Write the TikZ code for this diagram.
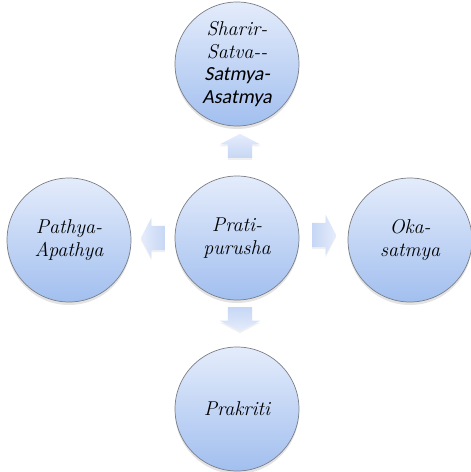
\documentclass[tikz,border=0pt]{standalone}
\usepackage{fontspec}
\newfontfamily\calfont{Carlito}[AutoFakeSlant=0.2]
\usetikzlibrary{shapes.arrows,shadows}

\definecolor{ballTop}{HTML}{E4ECFB}
\definecolor{ballBot}{HTML}{A2BFEF}
\definecolor{ballRim}{HTML}{7A7F88}
\definecolor{flowDark}{HTML}{C6D6F4}
\definecolor{flowLight}{HTML}{E6EDFC}

\tikzset{
  topic/.style={circle, minimum size=124pt, inner sep=0pt, draw=ballRim, line width=0.7pt,
    top color=ballTop, bottom color=ballBot, align=center,
    font=\fontsize{20}{22.5}\selectfont\itshape,
    drop shadow={opacity=0.22, shadow xshift=0pt, shadow yshift=-3pt}},
  flow/.style={single arrow, draw=none, minimum height=24pt,
    single arrow head extend=8pt, single arrow tip angle=125,
    drop shadow={opacity=0.12, shadow xshift=0pt, shadow yshift=-2pt},
    shape border rotate=#1},
  flowh/.style={flow=#1, inner xsep=0pt, inner ysep=12pt},
  flowv/.style={flow=#1, inner xsep=12pt, inner ysep=0pt}
}

\begin{document}
\begin{tikzpicture}[x=1pt,y=-1pt]
    \useasboundingbox (0,0) rectangle (471,472);
    % circles
    \node [topic] (sharir) at (237,64) {Sharir-\\Satva-{}-\\{\calfont Satmya-}\\{\calfont Asatmya}};
    \node [topic] (prati) at (237,238) {Prati-\\purusha};
    \node [topic] (pathya) at (69,240) {Pathya-\\Apathya};
    \node [topic] (oka) at (410,240) {Oka-\\satmya};
    \node [topic] (prakriti) at (237,409) {Prakriti};
    % block arrows
    \node [flowv=90, top color=flowLight, bottom color=flowDark] (toSharir) at (240,149) {};
    \node [flowh=180, left color=flowLight, right color=flowDark] (toPathya) at (156,238) {};
    \node [flowh=0, left color=flowDark, right color=flowLight] (toOka) at (321,235) {};
    \node [flowv=270, top color=flowDark, bottom color=flowLight] (toPrakriti) at (240,316) {};
\end{tikzpicture}
\end{document}
